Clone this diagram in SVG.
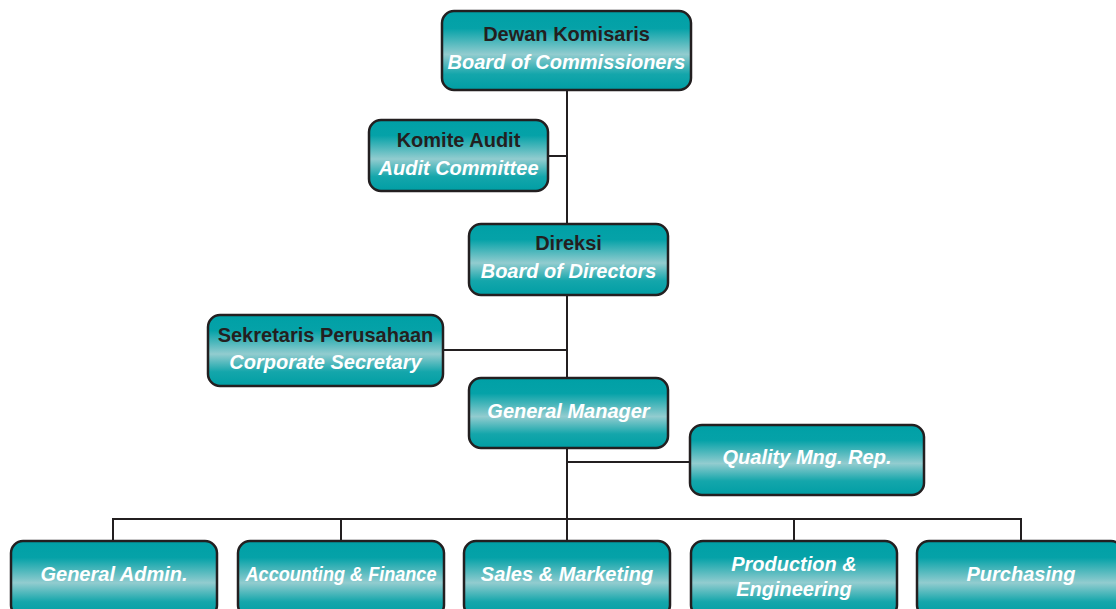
<svg xmlns="http://www.w3.org/2000/svg" width="1116" height="609" viewBox="0 0 1116 609">
<defs>
<linearGradient id="g" x1="0" y1="0" x2="0" y2="1">
<stop offset="0" stop-color="#00A0A6"/>
<stop offset="0.22" stop-color="#05A2A8"/>
<stop offset="0.55" stop-color="#92CCCF"/>
<stop offset="0.8" stop-color="#14A6AB"/>
<stop offset="1" stop-color="#009EA4"/>
</linearGradient>
</defs>
<style>
.box{fill:url(#g);stroke:#231F20;stroke-width:2.5}
.t{font-family:"Liberation Sans",Arial,sans-serif;font-weight:bold;font-size:20px;fill:#231F20;text-anchor:middle}
.i{font-family:"Liberation Sans",Arial,sans-serif;font-weight:bold;font-style:italic;font-size:20px;fill:#FFFFFF;text-anchor:middle}
.c{fill:none;stroke:#231F20;stroke-width:2}
</style>
<rect width="1116" height="609" fill="#FFFFFF"/>
<g id="connectors">
<path class="c" d="M567 90V541"/>
<path class="c" d="M548 156H567"/>
<path class="c" d="M443 350H567"/>
<path class="c" d="M567 462H690"/>
<path class="c" d="M113 541V519H1021V541"/>
<path class="c" d="M341 519V541"/>
<path class="c" d="M794 519V541"/>
</g>
<g id="dewan-komisaris">
<rect class="box" x="442" y="11" width="249" height="79" rx="12"/>
<text class="t" x="566.5" y="41">Dewan Komisaris</text>
<text class="i" x="566.5" y="69">Board of Commissioners</text>
</g>
<g id="komite-audit">
<rect class="box" x="369" y="120" width="179" height="71" rx="12"/>
<text class="t" x="458.5" y="147">Komite Audit</text>
<text class="i" x="458.5" y="175">Audit Committee</text>
</g>
<g id="direksi">
<rect class="box" x="469" y="224" width="199" height="71" rx="12"/>
<text class="t" x="568.5" y="250">Direksi</text>
<text class="i" x="568.5" y="278">Board of Directors</text>
</g>
<g id="sekretaris">
<rect class="box" x="208" y="315" width="235" height="71" rx="12"/>
<text class="t" x="325.5" y="342">Sekretaris Perusahaan</text>
<text class="i" x="325.5" y="369">Corporate Secretary</text>
</g>
<g id="general-manager">
<rect class="box" x="469" y="378" width="199" height="70" rx="12"/>
<text class="i" x="568.5" y="418">General Manager</text>
</g>
<g id="quality">
<rect class="box" x="690" y="425" width="234" height="70" rx="12"/>
<text class="i" x="807" y="464">Quality Mng. Rep.</text>
</g>
<g id="general-admin">
<rect class="box" x="11" y="541" width="206" height="76" rx="12"/>
<text class="i" x="114" y="581">General Admin.</text>
</g>
<g id="accounting">
<rect class="box" x="238" y="541" width="206" height="76" rx="12"/>
<text class="i" x="341" y="581" textLength="191" lengthAdjust="spacingAndGlyphs">Accounting &amp; Finance</text>
</g>
<g id="sales">
<rect class="box" x="464" y="541" width="206" height="76" rx="12"/>
<text class="i" x="567" y="581">Sales &amp; Marketing</text>
</g>
<g id="production">
<rect class="box" x="691" y="541" width="206" height="76" rx="12"/>
<text class="i" x="794" y="571">Production &amp;</text>
<text class="i" x="794" y="596">Engineering</text>
</g>
<g id="purchasing">
<rect class="box" x="917" y="541" width="206" height="76" rx="12"/>
<text class="i" x="1021" y="581">Purchasing</text>
</g>
</svg>
